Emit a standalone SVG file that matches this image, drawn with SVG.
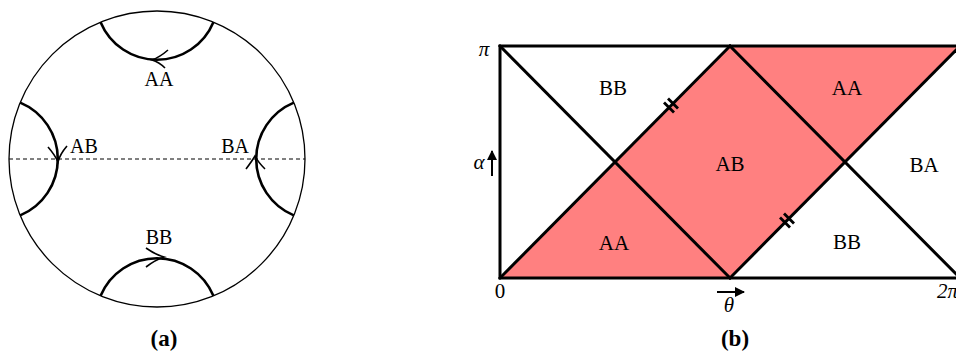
<svg xmlns="http://www.w3.org/2000/svg" width="956" height="360" viewBox="0 0 956 360">
<style>
  .lbl { font-family: "Liberation Serif", "Times New Roman", serif; font-size: 20px; fill: #000; }
  .lblb { font-family: "Liberation Serif", "Times New Roman", serif; font-size: 21px; fill: #000; text-anchor: middle; }
  .it { font-family: "Liberation Serif", "Times New Roman", serif; font-style: italic; font-size: 21px; fill: #000; }
  .cap { font-family: "Liberation Serif", "Times New Roman", serif; font-weight: bold; font-size: 23px; fill: #000; text-anchor: middle; }
  .geo { fill: none; stroke: #000; stroke-width: 2.6; }
  .chev { fill: none; stroke: #000; stroke-width: 1.6; stroke-linejoin: miter; }
  .edge { fill: none; stroke: #000; stroke-width: 3; stroke-linecap: square; }
  .tick { stroke: #000; stroke-width: 2.8; }
</style>
<defs>
  <marker id="ah" viewBox="0 0 10 10" refX="9" refY="5" markerWidth="5" markerHeight="5" orient="auto" markerUnits="strokeWidth">
    <path d="M0,0 L10,5 L0,10 Z" fill="#000"/>
  </marker>
</defs>

<!-- Panel (a) -->
<g id="disk">
  <circle cx="157" cy="159" r="148" fill="none" stroke="#000" stroke-width="1.3"/>
  <line x1="9" y1="159" x2="305" y2="159" stroke="#000" stroke-width="1" stroke-dasharray="4,3"/>
</g>
<g id="geo-AA">
  <path class="geo" d="M100.6,22.2 A61.1,61.1 0 0 0 213.4,22.2"/>
  <path class="chev" d="M168,50 Q160,57 152,60 Q159,62 165,68"/>
  <text class="lbl" x="159" y="86" text-anchor="middle">AA</text>
</g>
<g id="geo-AB">
  <path class="geo" d="M20.2,102.6 A61.1,61.1 0 0 1 20.2,215.4"/>
  <path class="chev" d="M48,147 Q55,155 58,162 Q60,154 67,146"/>
  <text class="lbl" x="70" y="153">AB</text>
</g>
<g id="geo-BA">
  <path class="geo" d="M293.8,102.6 A61.1,61.1 0 0 0 293.8,215.4"/>
  <path class="chev" d="M246,169 Q252,161 255,156 Q258,162 265,169"/>
  <text class="lbl" x="249" y="153" text-anchor="end">BA</text>
</g>
<g id="geo-BB">
  <path class="geo" d="M100.6,295.8 A61.1,61.1 0 0 1 213.4,295.8"/>
  <path class="chev" d="M146,248 Q156,255 164,257 Q155,260 146,267"/>
  <text class="lbl" x="159" y="244" text-anchor="middle">BB</text>
</g>
<text class="cap" x="164" y="346">(a)</text>

<!-- Panel (b) -->
<g id="region-red">
  <polygon points="500,278 730,46 960,46 730,278" fill="#ff8080"/>
</g>
<g id="connectors">
  <rect class="edge" x="500" y="46" width="460" height="232"/>
  <line class="edge" x1="500" y1="46" x2="730" y2="278"/>
  <line class="edge" x1="500" y1="278" x2="730" y2="46"/>
  <line class="edge" x1="730" y1="46" x2="960" y2="278"/>
  <line class="edge" x1="730" y1="278" x2="960" y2="46"/>
  <line class="tick" x1="664" y1="102.5" x2="674" y2="112.5"/>
  <line class="tick" x1="668" y1="98.5" x2="678" y2="108.5"/>
  <line class="tick" x1="780" y1="217.5" x2="790" y2="227.5"/>
  <line class="tick" x1="784" y1="213.5" x2="794" y2="223.5"/>
</g>
<g id="label-BB-top"><text class="lblb" x="613" y="95">BB</text></g>
<g id="label-AB"><text class="lblb" x="730" y="171">AB</text></g>
<g id="label-AA-bottom"><text class="lblb" x="614" y="250">AA</text></g>
<g id="label-AA-top"><text class="lblb" x="847" y="95">AA</text></g>
<g id="label-BA"><text class="lblb" x="924" y="172">BA</text></g>
<g id="label-BB-bottom"><text class="lblb" x="847" y="249">BB</text></g>
<g id="axes">
  <text class="it" x="484" y="56" text-anchor="middle">π</text>
  <text class="it" x="479" y="169" text-anchor="middle">α</text>
  <line x1="492" y1="176" x2="492" y2="151" stroke="#000" stroke-width="2" marker-end="url(#ah)"/>
  <text class="lblb" x="500" y="298">0</text>
  <line x1="717" y1="292" x2="744" y2="292" stroke="#000" stroke-width="2" marker-end="url(#ah)"/>
  <text class="it" x="729" y="312" text-anchor="middle">θ</text>
  <text class="it" x="937" y="298">2π</text>
</g>
<text class="cap" x="735" y="346">(b)</text>
</svg>
